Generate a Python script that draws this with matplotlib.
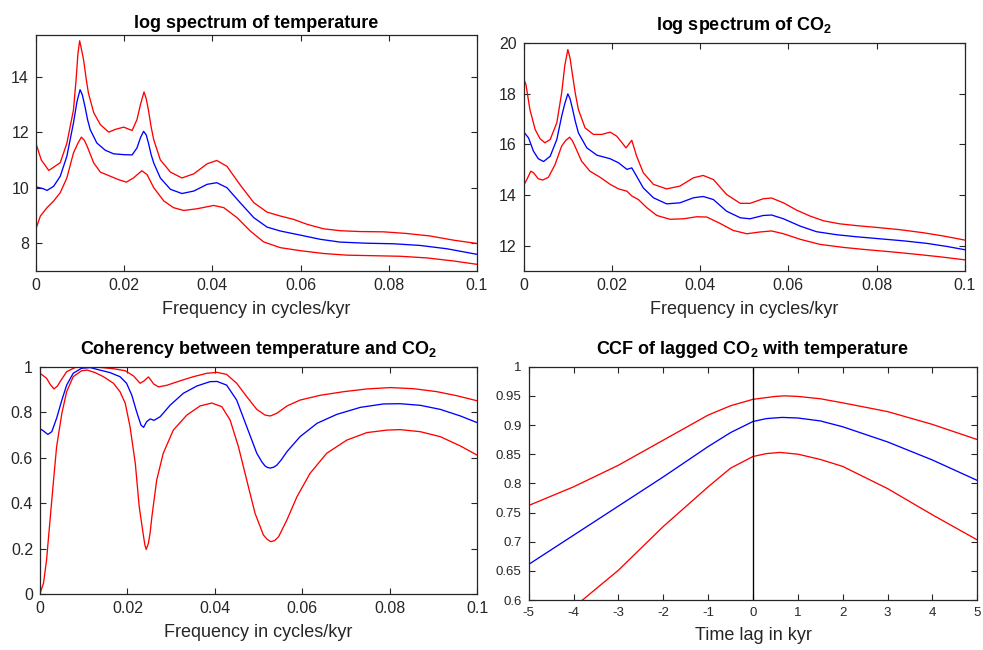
import numpy as np
import matplotlib
matplotlib.use("Agg")
import matplotlib.pyplot as plt
from matplotlib.ticker import FuncFormatter

plt.rcParams["font.family"] = ["Liberation Sans", "DejaVu Sans"]
plt.rcParams["mathtext.fontset"] = "custom"
plt.rcParams["mathtext.rm"] = "Liberation Sans"
plt.rcParams["mathtext.bf"] = "Liberation Sans:bold"

# =========================
# 1. DATA
# =========================
# log spectrum of temperature
t_up_f = [0, 0.0012, 0.0029, 0.0055, 0.007, 0.0085, 0.0091, 0.0095, 0.0099, 0.0103, 0.0108, 0.0114,
          0.0119, 0.0131, 0.0146, 0.0165, 0.018, 0.0199, 0.0218, 0.0229, 0.0237, 0.0245, 0.025, 0.0255,
          0.0261, 0.0267, 0.0282, 0.0305, 0.0331, 0.0358, 0.0388, 0.041, 0.0433, 0.0463, 0.0494,
          0.0524, 0.0554, 0.0584, 0.0615, 0.0652, 0.069, 0.0735, 0.0788, 0.0841, 0.0894, 0.0947, 0.1]
t_up = [11.59, 11.0, 10.62, 10.9, 11.6, 12.8, 13.9, 14.8, 15.29, 15.0, 14.6, 13.9,
        13.4, 12.7, 12.27, 12.0, 12.1, 12.18, 12.06, 12.45, 13.0, 13.45, 13.2, 12.8,
        12.2, 11.73, 11.0, 10.56, 10.35, 10.5, 10.86, 10.98, 10.77, 10.1, 9.46,
        9.12, 8.98, 8.86, 8.68, 8.52, 8.45, 8.42, 8.41, 8.35, 8.26, 8.11, 7.99]

t_mid_f = [0, 0.0017, 0.0025, 0.004, 0.0055, 0.007, 0.0085, 0.0093, 0.01, 0.0105, 0.0111, 0.0117,
           0.0123, 0.0138, 0.0157, 0.0176, 0.0199, 0.0218, 0.0229, 0.0237, 0.0244, 0.025, 0.0255,
           0.0261, 0.0267, 0.0282, 0.0305, 0.0331, 0.0358, 0.0388, 0.041, 0.0433, 0.0463, 0.0494,
           0.0524, 0.0554, 0.06, 0.0645, 0.069, 0.075, 0.0811, 0.0871, 0.0932, 0.1]
t_mid = [10.03, 9.96, 9.9, 10.05, 10.41, 11.13, 12.33, 13.1, 13.53, 13.35, 12.93, 12.45,
         12.09, 11.61, 11.35, 11.22, 11.19, 11.18, 11.43, 11.8, 12.03, 11.9, 11.61,
         11.2, 10.89, 10.35, 9.94, 9.79, 9.88, 10.12, 10.18, 10.0, 9.46, 8.92,
         8.58, 8.44, 8.29, 8.14, 8.04, 8.0, 7.98, 7.92, 7.8, 7.6]

t_lo_f = [0, 0.001, 0.0025, 0.004, 0.0055, 0.007, 0.0085, 0.0095, 0.0103, 0.011, 0.0116, 0.0131,
          0.0146, 0.0169, 0.0187, 0.0205, 0.0221, 0.024, 0.0252, 0.0267, 0.029, 0.0312, 0.0335,
          0.0365, 0.0403, 0.0426, 0.0456, 0.0486, 0.0516, 0.0554, 0.06, 0.0652, 0.0705, 0.0766,
          0.0826, 0.0887, 0.0947, 0.1]
t_lo = [8.52, 8.98, 9.28, 9.52, 9.82, 10.35, 11.25, 11.6, 11.82, 11.7, 11.49, 10.89,
        10.56, 10.41, 10.29, 10.2, 10.35, 10.61, 10.47, 10.0, 9.52, 9.28, 9.18,
        9.24, 9.36, 9.28, 8.92, 8.44, 8.05, 7.84, 7.73, 7.63, 7.57, 7.55,
        7.53, 7.47, 7.36, 7.24]

# log spectrum of CO2
c_up_f = [0, 0.0005, 0.0014, 0.0026, 0.0037, 0.0048, 0.006, 0.0075, 0.0086, 0.0093, 0.01, 0.0105,
          0.0111, 0.0117, 0.0124, 0.0139, 0.0158, 0.0177, 0.0196, 0.0211, 0.0232, 0.0245, 0.0256,
          0.0271, 0.0294, 0.0324, 0.0354, 0.0385, 0.0407, 0.043, 0.046, 0.0491, 0.0513, 0.0543,
          0.0562, 0.0589, 0.0619, 0.0649, 0.068, 0.0717, 0.0755, 0.08, 0.0853, 0.0906, 0.0952, 0.1]
c_up = [18.58, 18.36, 17.37, 16.58, 16.22, 16.06, 16.19, 16.85, 18.03, 19.1, 19.74, 19.4,
        18.69, 18.0, 17.37, 16.65, 16.39, 16.39, 16.48, 16.32, 15.86, 16.16, 15.53,
        14.88, 14.42, 14.24, 14.35, 14.68, 14.77, 14.61, 14.02, 13.67, 13.67, 13.85,
        13.88, 13.69, 13.4, 13.17, 12.98, 12.86, 12.79, 12.72, 12.63, 12.51, 12.38, 12.22]

c_mid_f = [0, 0.0011, 0.0022, 0.0033, 0.0045, 0.006, 0.0075, 0.0086, 0.0093, 0.01, 0.0105, 0.0111,
           0.0117, 0.0124, 0.0143, 0.0166, 0.0196, 0.0215, 0.0234, 0.0245, 0.0256, 0.0271, 0.0294,
           0.0324, 0.0354, 0.0385, 0.0407, 0.043, 0.046, 0.0491, 0.0513, 0.0543, 0.0562, 0.0589,
           0.0627, 0.0664, 0.071, 0.0755, 0.0808, 0.0861, 0.0914, 0.0959, 0.1]
c_mid = [16.49, 16.25, 15.73, 15.43, 15.32, 15.53, 16.19, 17.11, 17.6, 17.99, 17.8, 17.37,
         16.9, 16.45, 15.86, 15.57, 15.43, 15.27, 15.01, 15.07, 14.74, 14.28, 13.89,
         13.65, 13.69, 13.89, 13.94, 13.82, 13.36, 13.1, 13.06, 13.19, 13.21, 13.06,
         12.77, 12.55, 12.43, 12.35, 12.27, 12.19, 12.09, 11.97, 11.84]

c_lo_f = [0, 0.0007, 0.0016, 0.0022, 0.0033, 0.0043, 0.0056, 0.0071, 0.0086, 0.0095, 0.0104, 0.011,
          0.0116, 0.0131, 0.015, 0.0173, 0.0196, 0.0215, 0.0234, 0.0245, 0.026, 0.0279, 0.0302,
          0.0332, 0.0362, 0.0392, 0.0415, 0.0445, 0.0475, 0.0506, 0.0536, 0.0562, 0.0589, 0.0627,
          0.0672, 0.0725, 0.0778, 0.0831, 0.0884, 0.0944, 0.1]
c_lo = [14.39, 14.61, 14.94, 14.88, 14.64, 14.59, 14.7, 15.2, 15.93, 16.15, 16.28, 16.15,
        15.93, 15.34, 14.94, 14.7, 14.42, 14.24, 14.15, 13.96, 13.82, 13.5, 13.19,
        13.04, 13.06, 13.14, 13.13, 12.88, 12.6, 12.47, 12.54, 12.58, 12.47, 12.25,
        12.05, 11.93, 11.84, 11.76, 11.67, 11.56, 11.44]

# coherency between temperature and CO2
h_up_f = [0, 0.0015, 0.0024, 0.0032, 0.004, 0.0046, 0.0061, 0.008, 0.0103, 0.0137, 0.0168, 0.0195,
          0.0214, 0.0229, 0.0238, 0.0248, 0.0254, 0.026, 0.0271, 0.029, 0.0321, 0.0351, 0.0382,
          0.0405, 0.0427, 0.045, 0.0473, 0.0496, 0.0515, 0.0527, 0.0542, 0.0565, 0.0595, 0.0641,
          0.0695, 0.0748, 0.0802, 0.0855, 0.0908, 0.0954, 0.1]
h_up = [0.971, 0.949, 0.92, 0.902, 0.915, 0.934, 0.978, 0.996, 1.0, 0.997, 0.991, 0.982,
        0.959, 0.927, 0.937, 0.955, 0.94, 0.924, 0.911, 0.918, 0.938, 0.956, 0.971,
        0.975, 0.966, 0.927, 0.868, 0.812, 0.787, 0.783, 0.795, 0.827, 0.853, 0.874,
        0.89, 0.902, 0.908, 0.903, 0.89, 0.872, 0.85]

h_mid_f = [0, 0.0008, 0.0018, 0.0027, 0.0038, 0.005, 0.0061, 0.0076, 0.0095, 0.0115, 0.0137, 0.016,
           0.0183, 0.0198, 0.021, 0.0221, 0.0231, 0.0237, 0.0244, 0.0252, 0.0261, 0.0275, 0.0298,
           0.0328, 0.0359, 0.0389, 0.0405, 0.0427, 0.045, 0.0473, 0.0496, 0.0508, 0.0515, 0.0521,
           0.0527, 0.0535, 0.0542, 0.0552, 0.0565, 0.0595, 0.0634, 0.0679, 0.0733, 0.0786, 0.0824,
           0.087, 0.0916, 0.0962, 0.1]
h_mid = [0.727, 0.717, 0.702, 0.714, 0.773, 0.853, 0.919, 0.971, 0.993, 0.996, 0.985, 0.974,
         0.956, 0.927, 0.875, 0.802, 0.743, 0.733, 0.758, 0.77, 0.764, 0.78, 0.831,
         0.883, 0.915, 0.934, 0.935, 0.919, 0.853, 0.736, 0.619, 0.58, 0.563, 0.556,
         0.554, 0.558, 0.567, 0.59, 0.626, 0.692, 0.751, 0.79, 0.821, 0.836, 0.837,
         0.83, 0.812, 0.783, 0.754]

h_lo_f = [0, 0.0008, 0.0015, 0.0023, 0.0031, 0.0038, 0.005, 0.0061, 0.0076, 0.0095, 0.0108, 0.0126,
          0.0145, 0.0168, 0.0183, 0.0195, 0.0206, 0.0218, 0.0227, 0.0237, 0.024, 0.0243, 0.0248,
          0.0252, 0.0256, 0.0267, 0.0282, 0.0305, 0.0336, 0.0366, 0.0393, 0.0416, 0.0435, 0.0454,
          0.0473, 0.0492, 0.0511, 0.052, 0.0528, 0.0537, 0.0546, 0.0565, 0.0588, 0.0618, 0.0656,
          0.0702, 0.0748, 0.0794, 0.0824, 0.087, 0.0916, 0.0962, 0.1]
h_lo = [0.003, 0.047, 0.15, 0.326, 0.501, 0.648, 0.795, 0.89, 0.956, 0.982, 0.985, 0.974,
        0.956, 0.927, 0.89, 0.839, 0.736, 0.575, 0.384, 0.252, 0.215, 0.196, 0.223,
        0.27, 0.34, 0.501, 0.619, 0.721, 0.787, 0.827, 0.84, 0.824, 0.765, 0.648,
        0.501, 0.355, 0.26, 0.24, 0.23, 0.235, 0.252, 0.326, 0.428, 0.531, 0.619,
        0.677, 0.71, 0.721, 0.723, 0.714, 0.692, 0.651, 0.611]

# CCF of lagged CO2 with temperature
lag_up = [-5, -4, -3, -2, -1, -0.5, 0, 0.5, 0.7, 1, 1.5, 2, 3, 4, 5]
ccf_up = [0.762, 0.794, 0.831, 0.874, 0.917, 0.933, 0.944, 0.949, 0.95, 0.949, 0.945, 0.938, 0.923, 0.901, 0.875]

lag_mid = [-5, -4, -3, -2, -1, -0.5, 0, 0.3, 0.65, 1, 1.5, 2, 3, 4, 5]
ccf_mid = [0.661, 0.711, 0.761, 0.811, 0.863, 0.887, 0.906, 0.911, 0.913, 0.912, 0.907, 0.897, 0.871, 0.84, 0.805]

lag_lo = [-4, -3.8, -3, -2, -1, -0.5, 0, 0.3, 0.6, 1, 1.5, 2, 3, 4, 5]
ccf_lo = [0.588, 0.6, 0.651, 0.726, 0.794, 0.826, 0.846, 0.851, 0.853, 0.85, 0.841, 0.829, 0.791, 0.746, 0.703]


# =========================
# 2. HELPERS
# =========================
AX_COL = "#262626"

def style_axis(ax, tick_size):
    ax.tick_params(direction="in", top=True, right=True, length=4.5, width=0.8,
                   colors=AX_COL, labelsize=tick_size, pad=5)
    for s in ax.spines.values():
        s.set_color(AX_COL)
        s.set_linewidth(0.9)

def g_fmt(v, pos):
    return "%g" % round(v, 4)

def band_plot(ax, up, mid, lo):
    ax.plot(up[0], up[1], color="red", lw=0.95)
    ax.plot(mid[0], mid[1], color="blue", lw=0.95)
    ax.plot(lo[0], lo[1], color="red", lw=0.95)


# =========================
# 3. FIGURE
# =========================
fig = plt.figure(figsize=(9.83, 6.5), dpi=100)

ax1 = fig.add_axes([0.0366, 0.5831, 0.4486, 0.3631])
ax2 = fig.add_axes([0.5328, 0.5831, 0.4486, 0.3508])
ax3 = fig.add_axes([0.0407, 0.0862, 0.4446, 0.3497])
ax4 = fig.add_axes([0.5378, 0.0769, 0.4564, 0.3590])

band_plot(ax1, (t_up_f, t_up), (t_mid_f, t_mid), (t_lo_f, t_lo))
ax1.set_xlim(0, 0.1)
ax1.set_ylim(7, 15.5)
ax1.set_yticks([8, 10, 12, 14])
ax1.set_title("log spectrum of temperature", fontsize=13, fontweight="bold", pad=5)

band_plot(ax2, (c_up_f, c_up), (c_mid_f, c_mid), (c_lo_f, c_lo))
ax2.set_xlim(0, 0.1)
ax2.set_ylim(11, 20)
ax2.set_yticks([12, 14, 16, 18, 20])
ax2.set_title(r"log spectrum of CO$_\mathbf{2}$", fontsize=13, fontweight="bold", pad=9)

band_plot(ax3, (h_up_f, h_up), (h_mid_f, h_mid), (h_lo_f, h_lo))
ax3.set_xlim(0, 0.1)
ax3.set_ylim(0, 1)
ax3.set_yticks([0, 0.2, 0.4, 0.6, 0.8, 1])
ax3.set_title(r"Coherency between temperature and CO$_\mathbf{2}$", fontsize=13,
              fontweight="bold", pad=9)

for ax in (ax1, ax2, ax3):
    ax.set_xticks([0, 0.02, 0.04, 0.06, 0.08, 0.1])
    ax.xaxis.set_major_formatter(FuncFormatter(g_fmt))
    ax.yaxis.set_major_formatter(FuncFormatter(g_fmt))
    ax.set_xlabel("Frequency in cycles/kyr", fontsize=13, color=AX_COL, labelpad=6)
    style_axis(ax, 11.5)

band_plot(ax4, (lag_up, ccf_up), (lag_mid, ccf_mid), (lag_lo, ccf_lo))
ax4.axvline(0, color="black", lw=0.95)
ax4.set_xlim(-5, 5)
ax4.set_ylim(0.6, 1)
ax4.set_xticks(np.arange(-5, 6, 1))
ax4.set_yticks(np.arange(0.6, 1.001, 0.05))
ax4.xaxis.set_major_formatter(FuncFormatter(g_fmt))
ax4.yaxis.set_major_formatter(FuncFormatter(g_fmt))
ax4.set_title(r"CCF of lagged CO$_\mathbf{2}$ with temperature", fontsize=13,
              fontweight="bold", pad=9)
ax4.set_xlabel("Time lag in kyr", fontsize=13, color=AX_COL, labelpad=6)
style_axis(ax4, 9.5)

fig.savefig("out.png", dpi=100)
